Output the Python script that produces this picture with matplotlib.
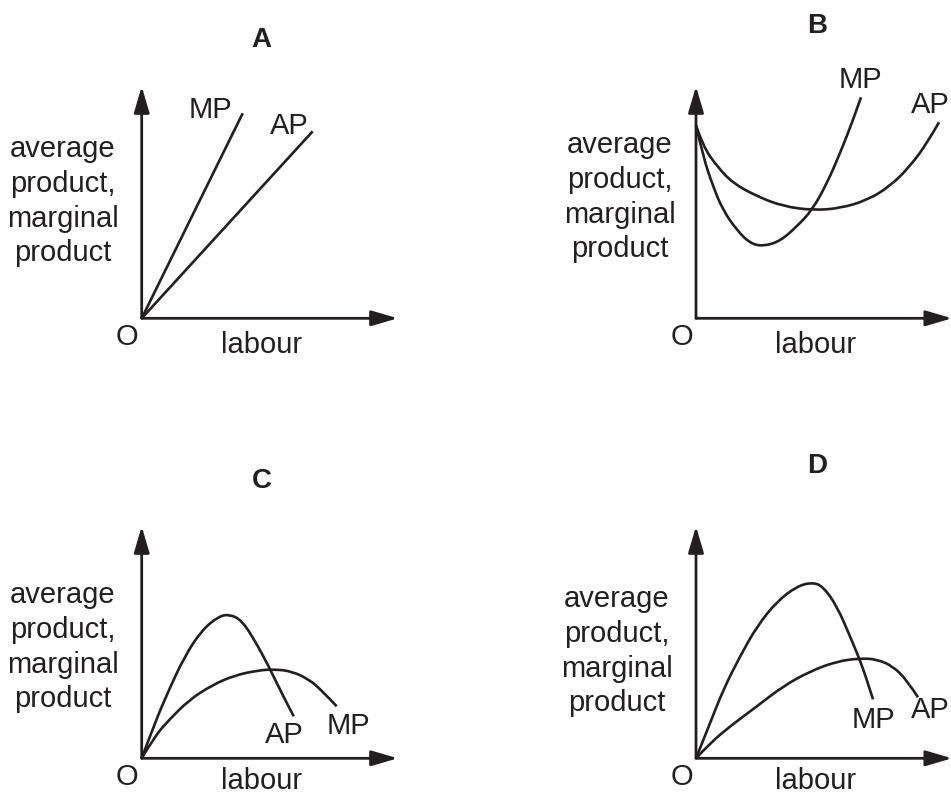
import matplotlib
matplotlib.use("Agg")
import matplotlib.pyplot as plt
from matplotlib.path import Path
from matplotlib.patches import PathPatch

plt.rcParams['font.family'] = ['Liberation Sans', 'DejaVu Sans']

INK = '#231f20'

# panel size: labour axis length, product axis length (same units as the curves)
W, H = 256, 232

# curves: (labour, product) points, origin at O
a_mp = ([0, 101], [0, 205])
a_ap = ([0, 171], [0, 187])

b_mp = ([0, 7, 17, 27, 41, 54, 67, 84, 101, 116, 131, 144, 157, 165],
        [193, 162, 132, 108, 88, 75, 72, 77, 92, 108, 135, 165, 198, 221])
b_ap = ([0, 7, 21, 37, 61, 87, 117, 144, 171, 194, 214, 231, 243],
        [193, 172, 152, 135, 122, 112, 108, 110, 118, 132, 152, 175, 196])

c_ap = ([0, 13, 27, 43, 60, 77, 88, 100, 113, 127, 140, 152],
        [0, 35, 68, 102, 128, 142, 144, 138, 118, 92, 65, 42])
c_mp = ([0, 13, 27, 47, 70, 93, 117, 133, 150, 167, 180, 195],
        [0, 22, 38, 58, 73, 83, 88, 89, 87, 79, 68, 52])

d_mp = ([0, 14, 27, 44, 61, 81, 101, 116, 127, 141, 154, 164, 171, 177],
        [0, 35, 68, 102, 132, 157, 172, 176, 172, 152, 122, 98, 78, 59])
d_ap = ([0, 14, 34, 61, 87, 114, 141, 164, 181, 197, 211, 222],
        [0, 15, 32, 52, 72, 87, 97, 100, 99, 92, 78, 61])

ylabel = "average\nproduct,\nmarginal\nproduct"

panels = [
    # name, origin in pixels, title pos, ylabel pos, labour baseline, curves, curve labels
    dict(name="A", origin=(141.7, 318.3), title=(120, 278), ylab=(-79, 117),
         xlab=-35, curves=[a_mp, a_ap],
         labels=[("MP", 69, 208, 'center'), ("AP", 148, 192, 'center')]),
    dict(name="B", origin=(696, 318.3), title=(121, 292), ylab=(-76, 121),
         xlab=-35, curves=[b_mp, b_ap],
         labels=[("MP", 164, 238, 'center'), ("AP", 215, 213, 'left')]),
    dict(name="C", origin=(141.7, 758.3), title=(120, 277.5), ylab=(-79, 111),
         xlab=-31, curves=[c_ap, c_mp],
         labels=[("AP", 143, 23, 'center'), ("MP", 207, 32, 'center')]),
    dict(name="D", origin=(696, 758.3), title=(121, 292.5), ylab=(-79, 107),
         xlab=-31, curves=[d_mp, d_ap],
         labels=[("MP", 177, 38, 'center'), ("AP", 234, 48, 'center')]),
]


def smooth_path(xs, ys):
    # quadratic bezier through the midpoints, read points act as controls
    pts = list(zip(xs, ys))
    if len(pts) < 3:
        return Path(pts)
    verts = [pts[0]]
    codes = [Path.MOVETO]
    for i in range(1, len(pts) - 1):
        if i < len(pts) - 2:
            end = ((pts[i][0] + pts[i + 1][0]) / 2, (pts[i][1] + pts[i + 1][1]) / 2)
        else:
            end = pts[-1]
        verts += [pts[i], end]
        codes += [Path.CURVE3, Path.CURVE3]
    return Path(verts, codes)


fig = plt.figure(figsize=(9.51, 7.96), dpi=100)
FW, FH = 951, 796
FS = 21

arrow = dict(arrowstyle='-|>,head_length=1.6,head_width=0.47', lw=2.0,
             color=INK, shrinkA=0, shrinkB=0)

for p in panels:
    ox, oy = p["origin"]
    ax = fig.add_axes([ox / FW, 1 - oy / FH, W / FW, H / FH])
    ax.set_xlim(0, W)
    ax.set_ylim(0, H)
    ax.axis('off')

    ax.annotate('', xy=(0, H), xytext=(0, 0), arrowprops=arrow,
                annotation_clip=False)
    ax.annotate('', xy=(W, 0), xytext=(0, 0), arrowprops=arrow,
                annotation_clip=False)

    for xs, ys in p["curves"]:
        ax.add_patch(PathPatch(smooth_path(xs, ys), fill=False, ec=INK,
                               lw=1.9, clip_on=False, capstyle='butt'))

    for txt, x, y, ha in p["labels"]:
        ax.text(x, y, txt, fontsize=FS, ha=ha, va='center', color=INK)

    tx, ty = p["title"]
    ax.text(tx, ty, p["name"], fontsize=20, fontweight='bold', ha='center',
            va='center', color=INK)
    lx, ly = p["ylab"]
    ax.text(lx, ly, ylabel, fontsize=FS, ha='center', va='center',
            linespacing=1.3, color=INK)
    ax.text(-14.5, -18.5, "O", fontsize=FS, ha='center', va='center',
            color=INK)
    ax.text(120, p["xlab"], "labour", fontsize=FS, ha='center',
            va='baseline', color=INK)

plt.savefig("out.png", dpi=100)
